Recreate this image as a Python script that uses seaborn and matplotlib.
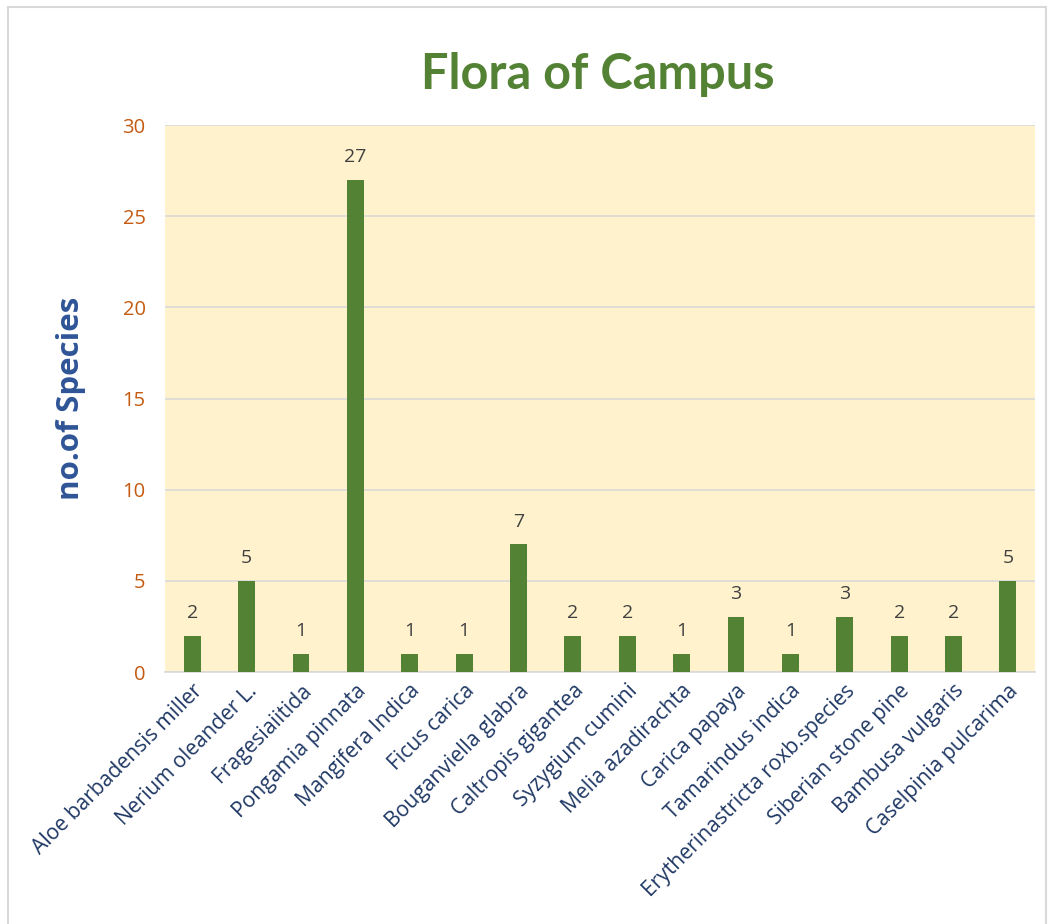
import matplotlib
matplotlib.use("Agg")
import matplotlib.pyplot as plt
import seaborn as sns
import pandas as pd
from matplotlib.patches import Rectangle

species = [
    "Aloe barbadensis miller", "Nerium oleander L.", "Fragesiaiitida",
    "Pongamia pinnata", "Mangifera Indica", "Ficus carica",
    "Bouganviella glabra", "Caltropis gigantea", "Syzygium cumini",
    "Melia azadirachta", "Carica papaya", "Tamarindus indica",
    "Erytherinastricta roxb.species", "Siberian stone pine",
    "Bambusa vulgaris", "Caselpinia pulcarima",
]
counts = [2, 5, 1, 27, 1, 1, 7, 2, 2, 1, 3, 1, 3, 2, 2, 5]
y_ticks = [0, 5, 10, 15, 20, 25, 30]

df = pd.DataFrame({"species": species, "count": counts})

sns.set_style("white")
plt.rcParams["font.family"] = ["Open Sans", "DejaVu Sans"]

fig = plt.figure(figsize=(10.53, 9.24), dpi=100)
ax = fig.add_axes([0.1567, 0.2727, 0.8263, 0.592])

sns.barplot(data=df, x="species", y="count", color="#548235",
            width=0.31, saturation=1, linewidth=0, ax=ax, zorder=3)

ax.set_facecolor("#FFF2CC")
ax.set_ylim(0, 30)
ax.set_yticks(y_ticks)
ax.set_xlim(-0.5, len(species) - 0.5)
ax.yaxis.grid(True, color="#D9D9D9", linewidth=1.2, zorder=0)
ax.set_axisbelow(True)
for s in ["top", "right", "left"]:
    ax.spines[s].set_visible(False)
ax.spines["bottom"].set_color("#D9D9D9")
ax.spines["bottom"].set_linewidth(1.2)
ax.tick_params(axis="both", length=0)

ax.set_yticklabels([str(t) for t in y_ticks], color="#C55A11", fontsize=14.5)
ax.tick_params(axis="y", pad=14)
ax.set_xticks(range(len(species)))
ax.set_xticklabels(species, rotation=45, ha="right", rotation_mode="anchor",
                   color="#1F3864", fontsize=15.2)
ax.tick_params(axis="x", pad=6)

ax.set_xlabel("")
ax.set_ylabel("no.of Species", color="#2F5597", fontsize=22.5,
              fontweight="bold", labelpad=26)

for i, v in enumerate(counts):
    ax.annotate(str(v), (i, v), xytext=(0, 10), textcoords="offset points",
                ha="center", va="bottom", color="#404040", fontsize=14)

fig.text(0.568, 0.919, "Flora of Campus", ha="center", va="center",
         color="#548235", fontsize=35, fontweight="bold", family="Lato")

fig.patches.append(Rectangle((8 / 1053, -0.01), 1038 / 1053, 1 - 7 / 924 + 0.01,
                             transform=fig.transFigure, fill=False,
                             edgecolor="#D9D9D9", linewidth=1.5))

fig.savefig("out.png", dpi=100)
